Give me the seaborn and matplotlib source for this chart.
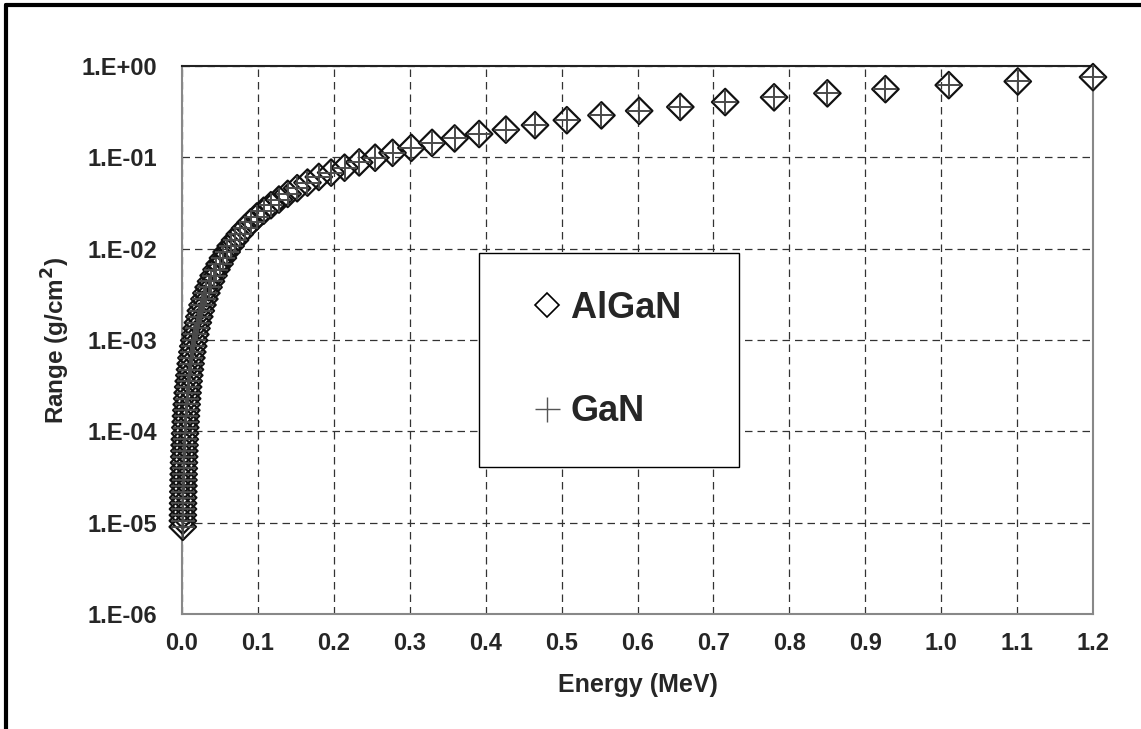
import numpy as np
import pandas as pd
import matplotlib
matplotlib.use('Agg')
import matplotlib.pyplot as plt
import seaborn as sns
from matplotlib.lines import Line2D

# energy grid (MeV)
energy = [1.2, 1.1009, 1.010, 0.9266, 0.8501, 0.7799, 0.7155, 0.6564, 0.6022, 0.5525,
          0.5069, 0.4650, 0.4266, 0.3914, 0.3591, 0.3294, 0.3022, 0.2773, 0.2544, 0.2334,
          0.2141, 0.1964, 0.1802, 0.1653, 0.1517, 0.1392, 0.1277, 0.1171, 0.1075, 0.0986,
          0.0904, 0.0830, 0.0761, 0.0698, 0.0641, 0.0588, 0.0539, 0.0495, 0.0454, 0.0416,
          0.0382, 0.0350, 0.0321, 0.0295, 0.0270, 0.0248, 0.0228, 0.0209, 0.0191, 0.0176,
          0.0161, 0.0148, 0.0136, 0.0124, 0.0114, 0.0105, 0.0096, 0.0088, 0.0081, 0.0074,
          0.0068, 0.0062, 0.0057, 0.0052, 0.0048, 0.0044, 0.0040, 0.0037, 0.0034, 0.0031,
          0.0029, 0.0026, 0.0024, 0.0022, 0.0020, 0.0019, 0.0017, 0.0016, 0.0014, 0.0013,
          0.0012, 0.0011, 0.0010]

# range (g/cm2)
algan_range = [0.755, 0.677, 0.617, 0.558, 0.502, 0.454, 0.403, 0.356, 0.323, 0.288,
               0.255, 0.225, 0.201, 0.180, 0.161, 0.144, 0.127, 0.112, 0.099, 0.088,
               0.077, 0.068, 0.061, 0.0529, 0.0459, 0.0398, 0.0345, 0.0299, 0.0260, 0.0225,
               0.0194, 0.0167, 0.0144, 0.0124, 0.0107, 0.0092, 0.0079, 0.0068, 0.00590, 0.00508,
               0.00438, 0.00378, 0.00326, 0.00281, 0.00242, 0.00209, 0.00180, 0.00155, 0.00134, 0.00115,
               0.00099, 0.000855, 0.000738, 0.000637, 0.000550, 0.000475, 0.000410, 0.000354, 0.000306, 0.000264,
               0.000228, 0.000197, 0.000170, 0.000147, 0.000127, 0.000110, 0.0000947, 0.0000818, 0.0000706, 0.0000610,
               0.0000527, 0.0000455, 0.0000393, 0.0000339, 0.0000293, 0.0000253, 0.0000218, 0.0000188, 0.0000163, 0.0000141,
               0.0000121, 0.0000105, 0.0000090]
# GaN overlaps AlGaN on the chart
gan_range = [0.755, 0.677, 0.617, 0.558, 0.502, 0.454, 0.403, 0.356, 0.323, 0.288,
             0.255, 0.225, 0.201, 0.180, 0.161, 0.144, 0.127, 0.112, 0.099, 0.088,
             0.077, 0.068, 0.061, 0.0529, 0.0459, 0.0398, 0.0345, 0.0299, 0.0260, 0.0225,
             0.0194, 0.0167, 0.0144, 0.0124, 0.0107, 0.0092, 0.0079, 0.0068, 0.00590, 0.00508,
             0.00438, 0.00378, 0.00326, 0.00281, 0.00242, 0.00209, 0.00180, 0.00155, 0.00134, 0.00115,
             0.00099, 0.000855, 0.000738, 0.000637, 0.000550, 0.000475, 0.000410, 0.000354, 0.000306, 0.000264,
             0.000228, 0.000197, 0.000170, 0.000147, 0.000127, 0.000110, 0.0000947, 0.0000818, 0.0000706, 0.0000610,
             0.0000527, 0.0000455, 0.0000393, 0.0000339, 0.0000293, 0.0000253, 0.0000218, 0.0000188, 0.0000163, 0.0000141,
             0.0000121, 0.0000105, 0.0000090]

x_ticks = [0.0, 0.1, 0.2, 0.3, 0.4, 0.5, 0.6, 0.7, 0.8, 0.9, 1.0, 1.1, 1.2]
y_ticks = [1e-6, 1e-5, 1e-4, 1e-3, 1e-2, 1e-1, 1e0]
y_tick_labels = ['1.E-06', '1.E-05', '1.E-04', '1.E-03', '1.E-02', '1.E-01', '1.E+00']

sns.set_style('white')
plt.rcParams['font.family'] = ['Liberation Sans', 'DejaVu Sans']
plt.rcParams['font.weight'] = 'bold'

df = pd.DataFrame({'Energy': energy, 'AlGaN': algan_range, 'GaN': gan_range})

fig = plt.figure(figsize=(11.41, 7.29), dpi=100)
ax = fig.add_axes([182/1141, 1 - 614/729, (1093-182)/1141, (614-66)/729])

sns.scatterplot(data=df, x='Energy', y='AlGaN', marker='D', s=13.5**2,
                facecolor='none', edgecolor='#111111', linewidth=1.6, ax=ax, zorder=3,
                clip_on=False)
sns.scatterplot(data=df, x='Energy', y='GaN', marker='+', s=17.5**2,
                color='#4a4a4a', linewidth=1.4, ax=ax, zorder=4, clip_on=False)

ax.set_yscale('log')
ax.set_xlim(0, 1.2)
ax.set_ylim(1e-6, 1e0)
ax.set_xticks(x_ticks)
ax.set_xticklabels(['%.1f' % t for t in x_ticks])
ax.set_yticks(y_ticks)
ax.set_yticklabels(y_tick_labels)
ax.minorticks_off()
ax.tick_params(axis='both', length=0, labelsize=17)
ax.tick_params(axis='y', pad=18)
ax.tick_params(axis='x', pad=13)
for lab in ax.get_xticklabels() + ax.get_yticklabels():
    lab.set_fontweight('bold')

ax.grid(True, which='major', color='#333333', linestyle=(0, (6, 4)), linewidth=0.9)
ax.set_axisbelow(True)

for side in ['left', 'bottom', 'right']:
    ax.spines[side].set_color('#888888')
    ax.spines[side].set_linewidth(1.5)
ax.spines['top'].set_color('#222222')
ax.spines['top'].set_linewidth(1.5)

ax.set_xlabel('Energy (MeV)', fontsize=18, fontweight='bold', labelpad=13)
ax.set_ylabel('Range (g/cm$^\\mathbf{2}$)', fontsize=17.5, fontweight='bold', labelpad=7)

handles = [Line2D([], [], marker='D', markersize=12.7, markerfacecolor='none',
                  markeredgecolor='black', markeredgewidth=1.2, linestyle=''),
           Line2D([], [], marker='+', markersize=18, color='#555555',
                  markeredgewidth=1.0, linestyle='')]
leg = ax.legend(handles, ['AlGaN  ', 'GaN'], loc='center',
                bbox_to_anchor=(609/1141, 1 - 360/729), bbox_transform=fig.transFigure,
                prop={'size': 26, 'weight': 'bold'}, frameon=True, fancybox=False,
                edgecolor='black', framealpha=1, borderpad=1.05, handlelength=1.7,
                handletextpad=-0.2, labelspacing=1.9)
leg.get_frame().set_linewidth(1.0)
leg.set_zorder(10)

# outer chart frame (left and top edges visible)
fig.add_artist(Line2D([6/1141, 6/1141], [0, 1 - 5/729], color='black', linewidth=3, transform=fig.transFigure))
fig.add_artist(Line2D([6/1141, 1], [1 - 5/729, 1 - 5/729], color='black', linewidth=3, transform=fig.transFigure))

fig.savefig('out.png', dpi=100, facecolor='white')
